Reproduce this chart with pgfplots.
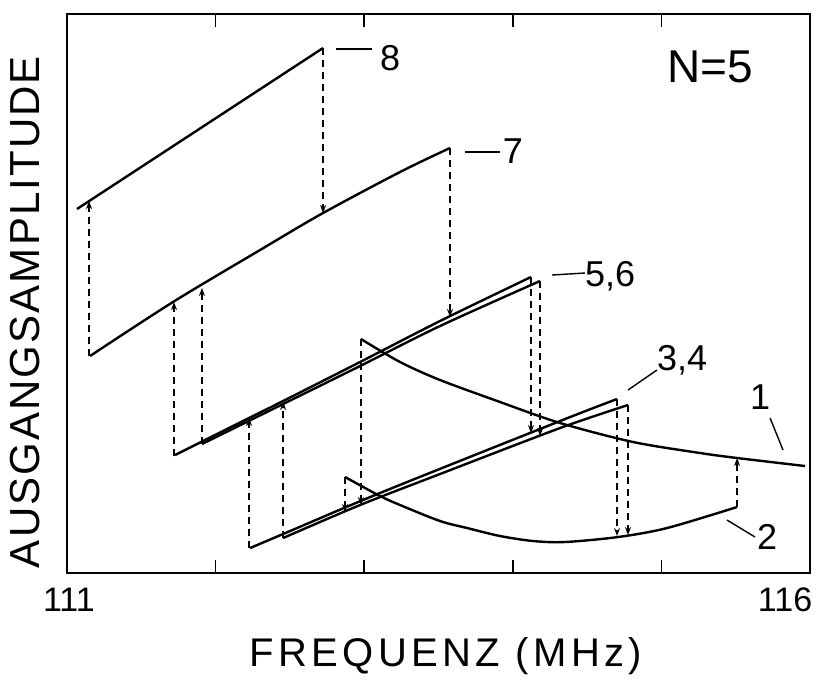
\documentclass[border=0pt]{standalone}
\usepackage{pgfplots}
\pgfplotsset{compat=1.18}
\usetikzlibrary{arrows.meta}
\usepackage{fontspec}
\setmainfont{Liberation Sans}
\newfontfamily\xlabfont[LetterSpace=11]{Liberation Sans}
\newfontfamily\ylabfont[LetterSpace=5]{Liberation Sans}
\begin{document}
\begin{tikzpicture}
\begin{axis}[
  width=743pt, height=559pt, scale only axis,
  xmin=111, xmax=116, ymin=0, ymax=559,
  axis line style={line width=2pt},
  xtick={112,113,114,115}, xticklabel=\empty, xtick pos=both,
  ytick=\empty,
  major tick length=13pt, tick style={line width=1.6pt, black},
  clip=false,
  every axis plot/.append style={line width=2.4pt, black, no markers},
  dsh/.style={line width=1.3pt, dash pattern=on 7pt off 5pt, -{Stealth[length=8pt,width=6pt]}},
]
% curve 8
\addplot[sharp plot] coordinates {(111.067,364)(112.723,525)};
% curve 7
\addplot[smooth] coordinates {(111.155,217)(111.713,271)(112.299,323)(112.723,360)(113.241,401)(113.577,425)};
% curve 5
\addplot[smooth] coordinates {(111.727,118)(112.225,155)(112.454,172)(112.972,211)(113.510,252)(114.122,296)};
% curve 6
\addplot[smooth] coordinates {(111.908,129)(112.454,169)(112.972,207)(113.510,247)(114.183,292)};
% curve 3
\addplot[smooth] coordinates {(112.232,25)(112.454,39)(113.106,80)(114.318,152)(114.701,174)};
% curve 4
\addplot[smooth] coordinates {(112.454,35)(112.972,68)(113.510,99)(114.318,145)(114.775,168)};
% curve 1
\addplot[smooth] coordinates {(112.978,234)(113.241,211)(113.510,193)(113.914,171)(114.318,150)(114.809,131)(115.260,120)(115.509,115)(115.966,107)};
% curve 2
\addplot[smooth] coordinates {(112.871,96)(113.106,77)(113.241,68)(113.510,52)(113.692,45)(113.914,37)(114.136,32)(114.351,31)(114.708,36)(115.038,45)(115.509,66)};
% jumps
\addplot[dsh] coordinates {(111.148,217)(111.148,372)};
\addplot[dsh] coordinates {(112.723,525)(112.723,360)};
\addplot[dsh] coordinates {(111.720,117)(111.720,271)};
\addplot[dsh] coordinates {(111.908,129)(111.908,285)};
\addplot[dsh] coordinates {(113.577,425)(113.577,256)};
\addplot[dsh] coordinates {(114.122,296)(114.122,140)};
\addplot[dsh] coordinates {(114.183,292)(114.183,137)};
\addplot[dsh] coordinates {(112.225,25)(112.225,155)};
\addplot[dsh] coordinates {(112.454,35)(112.454,171)};
\addplot[dsh] coordinates {(112.978,234)(112.978,68)};
\addplot[dsh] coordinates {(112.871,96)(112.871,61)};
\addplot[dsh] coordinates {(114.701,174)(114.701,37)};
\addplot[dsh] coordinates {(114.775,168)(114.775,38)};
\addplot[dsh] coordinates {(115.509,66)(115.509,115)};
% labels and leaders
\draw[line width=1.4pt] (axis cs:112.810,524) -- (axis cs:113.053,524);
\node[font=\fontsize{36}{40}\selectfont] at (axis cs:113.174,515) {8};
\draw[line width=1.4pt] (axis cs:113.678,421) -- (axis cs:113.914,421);
\node[font=\fontsize{36}{40}\selectfont] at (axis cs:114.001,422) {7};
\draw[line width=1.4pt] (axis cs:114.264,298) -- (axis cs:114.486,300);
\node[font=\fontsize{36}{40}\selectfont] at (axis cs:114.654,297) {5,6};
\draw[line width=1.4pt] (axis cs:114.775,183) -- (axis cs:114.970,203);
\node[font=\fontsize{36}{40}\selectfont] at (axis cs:115.139,213) {3,4};
\draw[line width=1.4pt] (axis cs:115.731,155) -- (axis cs:115.818,123);
\node[font=\fontsize{36}{40}\selectfont] at (axis cs:115.664,176) {1};
\draw[line width=1.4pt] (axis cs:115.441,53) -- (axis cs:115.630,36);
\node[font=\fontsize{36}{40}\selectfont] at (axis cs:115.711,36) {2};
\node[font=\fontsize{46}{50}\selectfont] at (axis cs:115.327,506) {N=5};
% tick labels
\node[font=\fontsize{34}{38}\selectfont] at (axis cs:111.013,-27) {111};
\node[font=\fontsize{34}{38}\selectfont] at (axis cs:115.832,-27) {116};
% axis labels
\node[font=\xlabfont\fontsize{40}{44}\selectfont] at (axis cs:113.550,-83) {FREQUENZ (MHz)};
\node[font=\ylabfont\fontsize{42}{46}\selectfont, rotate=90] at (axis cs:110.717,261) {AUSGANGSAMPLITUDE};
\coordinate (bl) at (axis cs:110.549,-109);
\coordinate (tr) at (axis cs:116.040,573);
\end{axis}
\pgfresetboundingbox
\path[use as bounding box] (bl) rectangle (tr);
\end{tikzpicture}
\end{document}
